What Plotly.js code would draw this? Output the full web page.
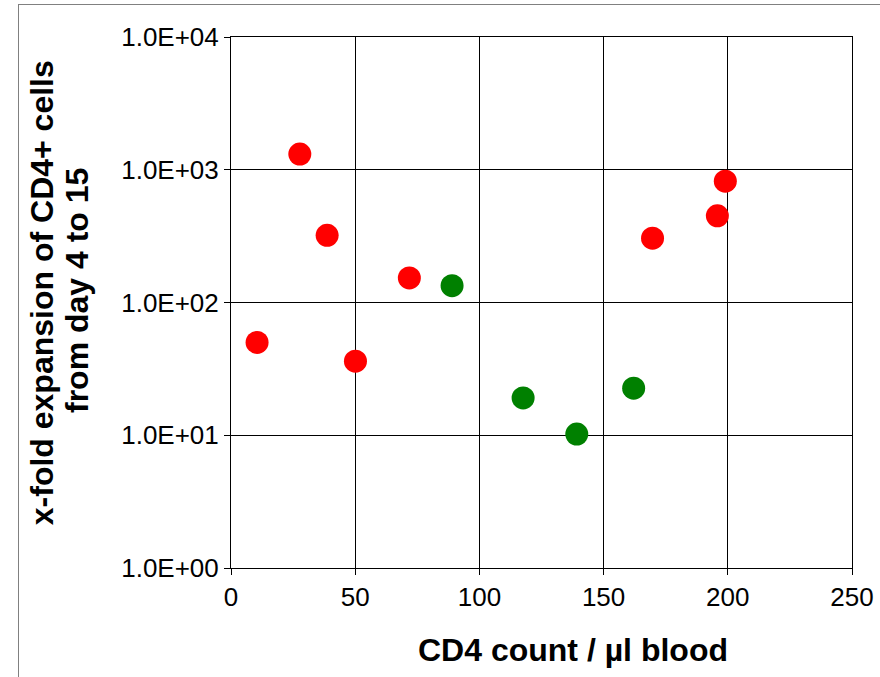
<!DOCTYPE html>
<html>
<head>
<meta charset="utf-8">
<script src="https://cdn.plot.ly/plotly-3.0.1.min.js"></script>
<style>
  html, body { margin: 0; padding: 0; background: #fff; }
  #wrap { position: relative; width: 880px; height: 677px; overflow: hidden; }
  #chart { position: absolute; left: 0; top: 0; width: 880px; height: 677px; }
  #frame { position: absolute; left: 18px; top: 4px; width: 900px; height: 700px;
           border-left: 1px solid #808080; border-top: 1px solid #808080; pointer-events: none; }
</style>
</head>
<body>
<div id="wrap">
  <div id="chart"></div>
  <div id="frame"></div>
</div>
<script>
// CD4 count / µl blood (x) and x-fold expansion (y)
const redCD4 = [10.5, 27.7, 38.7, 50.1, 71.8, 169.7, 195.8, 199.0];
const redExpansion = [50, 1312, 321, 36.1, 153, 305, 450, 820];
const greenCD4 = [89.0, 117.6, 139.2, 162.1];
const greenExpansion = [134, 19.1, 10.2, 22.6];

const yTickVals = [1, 10, 100, 1000, 10000];
const yTickText = ["1.0E+00", "1.0E+01", "1.0E+02", "1.0E+03", "1.0E+04"];
const xTickVals = [0, 50, 100, 150, 200, 250];

const xTitle = "CD4 count / µl blood";
const yTitleLines = ["x-fold expansion of CD4+ cells", "from day 4 to 15"];

const FONT = "Liberation Sans, Arial, Helvetica, sans-serif";

const traces = [
  {
    x: redCD4, y: redExpansion, type: "scatter", mode: "markers",
    marker: { color: "#ff0000", size: 23, line: { width: 0 } },
    hoverinfo: "x+y", showlegend: false
  },
  {
    x: greenCD4, y: greenExpansion, type: "scatter", mode: "markers",
    marker: { color: "#008000", size: 23, line: { width: 0 } },
    hoverinfo: "x+y", showlegend: false
  }
];

const titleFont = { family: FONT, size: 32, color: "#000" };

const layout = {
  width: 880, height: 677,
  margin: { l: 230.5, r: 28.3, t: 37, b: 109.3, pad: 0 },
  paper_bgcolor: "#ffffff", plot_bgcolor: "#ffffff",
  font: { family: FONT, color: "#000000", size: 26 },
  showlegend: false,
  xaxis: {
    range: [0, 250], tickmode: "array", tickvals: xTickVals,
    ticks: "outside", ticklen: 6, tickcolor: "#000", tickwidth: 1,
    showline: true, linecolor: "#000", linewidth: 1, mirror: true,
    showgrid: true, gridcolor: "#000", gridwidth: 1, zeroline: false,
    tickfont: { family: FONT, size: 26, color: "#000" }
  },
  yaxis: {
    type: "log", range: [0, 4], tickmode: "array", tickvals: yTickVals, ticktext: yTickText,
    ticks: "outside", ticklen: 6, tickcolor: "#000", tickwidth: 1,
    showline: true, linecolor: "#000", linewidth: 1, mirror: true,
    showgrid: true, gridcolor: "#000", gridwidth: 1, zeroline: false,
    tickfont: { family: FONT, size: 26, color: "#000" }
  },
  annotations: [
    { text: "<b>" + xTitle + "</b>", xref: "paper", yref: "paper", x: 0.551, y: -0.155,
      xanchor: "center", yanchor: "middle", showarrow: false, font: titleFont },
    { text: "<b>" + yTitleLines[0] + "</b>", xref: "paper", yref: "paper", x: -0.305, y: 0.5186,
      xanchor: "center", yanchor: "middle", textangle: -90, showarrow: false, font: titleFont },
    { text: "<b>" + yTitleLines[1] + "</b>", xref: "paper", yref: "paper", x: -0.249, y: 0.5223,
      xanchor: "center", yanchor: "middle", textangle: -90, showarrow: false, font: titleFont }
  ]
};

Plotly.newPlot("chart", traces, layout, { displayModeBar: false, staticPlot: true });
</script>
</body>
</html>
